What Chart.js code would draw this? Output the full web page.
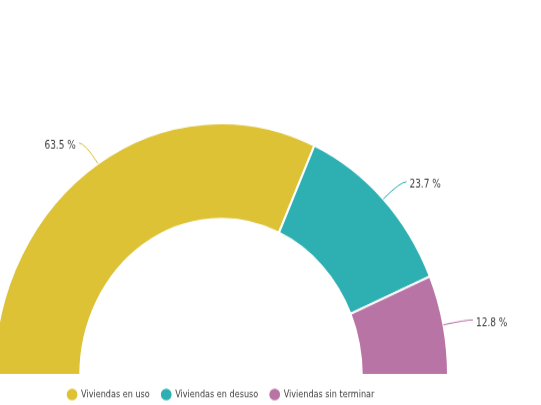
<!DOCTYPE html>
<html>
<head>
<meta charset="utf-8">
<script src="https://cdn.jsdelivr.net/npm/chart.js@4"></script>
<style>
    html, body { margin: 0; padding: 0; background: #fff; overflow: hidden; width: 541px; height: 405px; }
    /* the source picture is a little stretched vertically and cut on the left */
    #wrap { position: absolute; left: -7px; top: 0; width: 548px; height: 370px; transform: scaleY(1.1096); transform-origin: 0 0; }
</style>
</head>
<body>
<div id="wrap"><canvas id="viviendasChart"></canvas></div>
<script>
const categorias = ["Viviendas en uso", "Viviendas en desuso", "Viviendas sin terminar"];
const porcentajes = [63.5, 23.7, 12.8];
const colores = ["#DDC235", "#2EB0B3", "#B974A6"];

const FONT = "'Liberation Sans Narrow', 'DejaVu Sans Condensed', 'Noto Sans', sans-serif";

// leader lines + percentage labels next to each arc
const etiquetas = {
    id: "etiquetas",
    afterDatasetsDraw(chart) {
        const ctx = chart.ctx;
        const meta = chart.getDatasetMeta(0);
        ctx.save();
        ctx.font = "10px " + FONT;
        ctx.textBaseline = "middle";
        meta.data.forEach((arc, i) => {
            const p = arc.getProps(["x", "y", "startAngle", "endAngle", "outerRadius"], true);
            const mid = (p.startAngle + p.endAngle) / 2;
            const cx = Math.cos(mid), cy = Math.sin(mid);
            const x0 = p.x + cx * p.outerRadius, y0 = p.y + cy * p.outerRadius;
            const x1 = p.x + cx * (p.outerRadius + 24), y1 = p.y + cy * (p.outerRadius + 22);
            const dir = cx < 0 ? -1 : 1;
            const x2 = x1 + dir * 6;

            ctx.strokeStyle = colores[i];
            ctx.lineWidth = 1;
            ctx.beginPath();
            ctx.moveTo(x0, y0);
            ctx.quadraticCurveTo(x1, y1, x2, y1);
            ctx.stroke();

            ctx.fillStyle = "#3b3b3b";
            ctx.textAlign = dir < 0 ? "right" : "left";
            ctx.fillText(porcentajes[i].toFixed(1) + " %", x2 + dir * 3, y1 + 3);
        });
        ctx.restore();
    }
};

new Chart(document.getElementById("viviendasChart"), {
    type: "doughnut",
    data: {
        labels: categorias,
        datasets: [{
            data: porcentajes,
            backgroundColor: colores,
            borderColor: "#ffffff",
            borderWidth: 2
        }]
    },
    options: {
        responsive: true,
        maintainAspectRatio: false,
        animation: false,
        rotation: -90,
        circumference: 180,
        cutout: "62%",
        layout: { padding: { top: 110, left: 0, right: 92, bottom: 0 } },
        plugins: {
            legend: {
                position: "bottom",
                labels: {
                    usePointStyle: true,
                    pointStyle: "circle",
                    boxWidth: 10,
                    boxHeight: 10,
                    padding: 12,
                    color: "#3b3b3b",
                    font: { size: 9, family: FONT }
                }
            },
            tooltip: { enabled: false }
        }
    },
    plugins: [etiquetas]
});
</script>
</body>
</html>
